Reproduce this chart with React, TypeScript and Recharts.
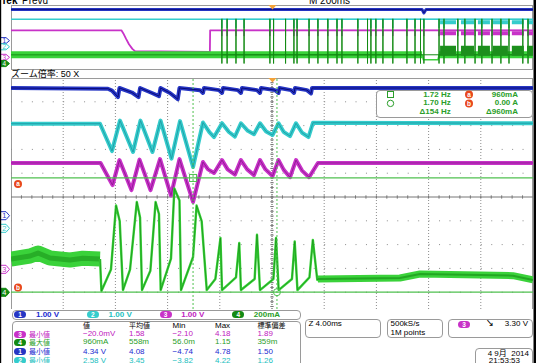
import React from 'react';
import { ComposedChart, Line, XAxis, YAxis, ReferenceLine, ReferenceDot } from 'recharts';

// scope colours
const C1 = '#2636c4';
const C1D = '#0a0a78';
const C2 = '#35cccc';
const C2D = '#1a96a0';
const C3 = '#c832c8';
const C3D = '#86168a';
const C4 = '#3ad23a';
const C4D = '#138a13';
const CUR = '#4fc04f';
const GRID = '#8c8c8c';
const TXT_GREEN = '#2a9e2a';
const FONT = "'Liberation Sans', 'Noto Sans CJK JP', sans-serif";

// ---- zoom window (40 ms, 4 ms/div) ----
// ground of each channel, in divisions from the centre line, and units per division
const zoomGround = [-0.79, -1.32, -3.04, -4.0];
const perDiv = [1, 1, 1, 200];
const zoomDivPx = 23.8;
const zoomH = 231;

// [ms, V]
const zoomCh1: [number, number][] = [
  [0, 5.37], [7.43, 5.34], [7.74, 5.26], [8.2, 4.99], [8.31, 5.37], [9.27, 5.18], [9.77, 4.99], [9.89, 5.37],
  [10.8, 5.16], [11.34, 5.03], [11.46, 5.37], [12.18, 5.16], [12.78, 4.9], [12.91, 5.37], [14.48, 5.28],
  [14.71, 5.16], [14.79, 5.37], [15.94, 5.28], [16.17, 5.16], [16.25, 5.37], [17.39, 5.28], [17.62, 5.16],
  [17.7, 5.37], [18.85, 5.28], [19.08, 5.16], [19.16, 5.37], [20.23, 5.28], [20.5, 5.16], [20.57, 5.37],
  [21.46, 5.28], [21.69, 5.16], [21.76, 5.37], [22.68, 5.28], [22.99, 5.14], [23.07, 5.37], [40, 5.37],
];
const zoomCh2: [number, number][] = [
  [0, 4.4], [6.82, 4.4], [7.74, 3.25], [8.35, 4.53], [9.35, 3.21], [9.92, 4.53], [10.84, 3.21], [11.46, 4.53],
  [12.3, 2.93], [12.95, 4.51], [13.95, 2.58], [14.71, 4.45], [15.2, 4.05], [15.56, 3.84], [16.17, 4.42],
  [16.7, 4.05], [17.16, 3.86], [17.62, 4.42], [18.15, 4.1], [18.62, 3.96], [19.08, 4.42], [19.55, 4.07],
  [20.04, 3.92], [20.5, 4.42], [20.9, 4.05], [21.38, 3.88], [21.84, 4.42], [22.3, 4.02], [22.8, 3.84],
  [23.14, 4.44], [40, 4.42],
];
const zoomCh3: [number, number][] = [
  [0, 4.47], [6.86, 4.47], [7.78, 3.54], [8.31, 4.59], [9.23, 3.33], [9.85, 4.61], [10.69, 3.33], [11.42, 4.63],
  [12.26, 3.1], [12.91, 4.63], [13.95, 2.83], [14.71, 4.51], [15.1, 4.2], [15.56, 4.05], [16.17, 4.59],
  [16.6, 4.2], [17.16, 3.98], [17.62, 4.59], [18.1, 4.2], [18.62, 3.96], [19.08, 4.59], [19.5, 4.2],
  [20.04, 3.92], [20.5, 4.59], [20.9, 4.18], [21.38, 3.87], [21.84, 4.59], [22.3, 4.15], [22.84, 3.87],
  [23.52, 4.47], [40, 4.47],
];
// [ms, mA]
const zoomCh4Band: [number, number][] = [
  [0, 279], [1.46, 304], [2.07, 329], [2.99, 287], [4.52, 271], [5.5, 285], [6.82, 279],
];
const zoomCh4Pulse: [number, number][] = [
  [6.82, 279], [6.93, 10], [7.66, 190], [8.05, 728], [8.33, 598], [8.58, 18], [9.12, 190], [9.64, 758],
  [9.89, 627], [10.04, 18], [10.68, 180], [11.08, 758], [11.34, 657], [11.47, 18], [12.26, 282], [12.52, 871],
  [12.91, 771], [13.03, 18], [13.95, 296], [14.22, 728], [14.61, 598], [15.0, 18], [15.66, 111], [16.05, 455],
  [16.17, 18], [17.24, 124], [17.49, 413], [17.62, 18], [18.67, 111], [18.85, 483], [19.08, 18], [20.11, 111],
  [20.31, 455], [20.51, 18], [21.53, 111], [21.74, 426], [21.95, 18], [22.87, 124], [23.13, 439], [23.47, 103],
  [23.52, 111],
];
const zoomCh4Tail: [number, number][] = [
  [23.52, 111], [29.8, 119], [31.34, 153], [35.94, 145], [38.47, 139], [40, 103],
];
const cursorA = 960; // mA
const cursorB = 0;
const cursorT1 = 13.95; // ms
const cursorT2 = 20.38;

// ---- overview record (2 s, 200 ms/div) ----
const ovGround = [5.12, 4.14, 2.24, 1.12];
const ovDivs = 11.2;
const ovCh1: [number, number | null][] = [[0, 5.3], [1575, 5.3], [1582, 4.7], [1590, 5.3], [2000, 5.3]];
const ovCh2: [number, number | null][] = [[0, 4.6], [2000, 4.6]];
const ovCh3: [number, number | null][] = [
  [0, 4.6], [423, 4.6], [430, 4.1], [440, 3.2], [452, 2.2], [465, 1.4], [475, 1.0], [762, 0.9], [763, 4.6], [2000, 4.6],
];
const ovCh4: [number, number | null][] = [[0, 300], [1575, 300], [1576, null], [1640, 300], [2000, 300]];
const ovCh4Low: [number, number | null][] = [[1575, 300], [1580, 130], [1636, 130], [1640, 300]];
const ovSpikeT = [
  808, 828, 862, 893, 992, 1006, 1052, 1084, 1096, 1142, 1176, 1214, 1249, 1268, 1329, 1366, 1379, 1398, 1425,
  1463, 1517, 1548, 1569, 1582, 1640, 1659, 1712, 1739, 1778, 1804, 1843, 1877, 1908, 1961, 1981,
];
const ovBurst: [number, number][] = [[1644, 1705], [1724, 1774], [1789, 1835], [1846, 1904], [1919, 1965], [1977, 2000]];

// ---- readouts ----
const legendCh = [1, 2, 3, 4];
const legendScale = ['1.00 V', '1.00 V', '1.00 V', '200mA'];
const measHead = ['値', '平均値', 'Min', 'Max', '標準偏差'];
const measCh = [3, 4, 1, 2];
const measName = ['最小値', '最大値', '最小値', '最小値'];
const measValue = ['−20.0mV', '960mA', '4.34 V', '2.58 V'];
const measMean = ['1.58', '558m', '4.08', '3.45'];
const measMin = ['−2.10', '56.0m', '−4.74', '−3.82'];
const measMax = ['4.18', '1.15', '4.78', '4.22'];
const measStd = ['1.89', '359m', '1.50', '1.26'];

const chColor = ['', C1, C2, C3, C4D];
const chText = ['', '#1a2ad0', '#22c0c0', '#c020c0', TXT_GREEN];

const place = (pts: [number, number | null][], ch: number, ground: number[]) =>
  pts.map(([t, v]) => ({ t, y: v == null ? null : ground[ch] + v / perDiv[ch] }));

const spikes = (times: number[], ch: number, base: number, levels: number[]) =>
  place(times.flatMap((t) => [[t, base], ...levels.map((l) => [t, l]), [t, base]] as [number, number][]), ch, ovGround);

const spans = (list: [number, number][], ch: number, level: number) =>
  place(list.flatMap(([a, b]) => [[a, level], [b, level], [b, null]] as [number, number | null][]), ch, ovGround);

const steps = (from: number, to: number, step: number) => {
  const out: number[] = [];
  for (let v = from; v <= to + 1e-6; v += step) out.push(Math.round(v * 1000) / 1000);
  return out;
};

const trace = (key: string, data: any[], color: string, width: number, opacity = 1) => (
  <Line
    key={key}
    data={data}
    dataKey="y"
    type="linear"
    stroke={color}
    strokeWidth={width}
    strokeOpacity={opacity}
    strokeLinejoin="round"
    dot={false}
    activeDot={false}
    isAnimationActive={false}
  />
);

const T: React.FC<{ x: number; y: number; size?: number; color?: string; bold?: boolean; end?: boolean; children: React.ReactNode }> = ({
  x, y, size = 8, color = '#000', bold, end, children,
}) => (
  <div
    style={{
      position: 'absolute',
      top: y - size / 2 - 1,
      ...(end ? { right: 536 - x } : { left: x }),
      fontSize: size,
      lineHeight: `${size + 2}px`,
      color,
      fontWeight: bold ? 'bold' : 'normal',
      whiteSpace: 'nowrap',
      fontFamily: FONT,
    }}
  >
    {children}
  </div>
);

const Pill: React.FC<{ x: number; y: number; ch: number }> = ({ x, y, ch }) => (
  <div
    style={{
      position: 'absolute', left: x, top: y - 3.5, width: 12, height: 7, borderRadius: 4,
      background: chColor[ch], color: '#fff', fontSize: 6.5, lineHeight: '7px', textAlign: 'center',
      fontFamily: FONT, fontWeight: 'bold',
    }}
  >
    {ch}
  </div>
);

const Box: React.FC<{ x: number; y: number; w: number; h: number }> = ({ x, y, w, h }) => (
  <div style={{ position: 'absolute', left: x, top: y, width: w, height: h, border: '1px solid #9a9a9a', borderRadius: 4, background: '#fff', boxSizing: 'border-box' }} />
);

const Marker: React.FC<{ y: number; n: number; color: string; filled?: boolean; h?: number }> = ({ y, n, color, filled, h = 4 }) => (
  <g>
    <path d={`M0.5,${y - h} H6 L9.5,${y} L6,${y + h} H0.5 Z`} fill={filled ? color : '#fff'} stroke={color} strokeWidth={1} />
    <text x={4.3} y={y + 2.6} fontSize={h < 4 ? 6.5 : 7.5} textAnchor="middle" fill={filled ? '#fff' : color} fontFamily={FONT}>{n}</text>
  </g>
);

const Dot: React.FC<{ x: number; y: number; l: string }> = ({ x, y, l }) => (
  <g>
    <circle cx={x} cy={y} r={4} fill="#e8481c" />
    <text x={x} y={y + 2.3} fontSize={6.5} fontWeight="bold" textAnchor="middle" fill="#fff" fontFamily={FONT}>{l}</text>
  </g>
);

const Overview = () => (
  <ComposedChart width={522} height={65} margin={{ top: 0, right: 0, bottom: 0, left: 0 }}>
    <XAxis type="number" dataKey="t" domain={[0, 2000]} hide allowDataOverflow />
    <YAxis type="number" domain={[0, ovDivs]} hide allowDataOverflow />
    {trace('b', place(ovCh1, 0, ovGround), C1, 3)}
    {trace('bi', place(ovCh1, 0, ovGround), C1D, 0.8)}
    {trace('c', place(ovCh2, 1, ovGround), C2, 1.4)}
    {trace('cs', spikes(ovSpikeT, 1, 4.6, [3.1]), C2, 1)}
    {trace('cb', spans(ovBurst, 1, 4.1), C2, 4)}
    {trace('m', place(ovCh3, 2, ovGround), C3, 1.8)}
    {trace('ms', spikes(ovSpikeT, 2, 4.6, [3.6]), C3, 1)}
    {trace('mb', spans(ovBurst, 2, 4.1), C3, 4)}
    {trace('g', place(ovCh4, 3, ovGround), C4, 7)}
    {trace('gi', place(ovCh4, 3, ovGround), C4D, 1.4, 0.6)}
    {trace('gl', place(ovCh4Low, 3, ovGround), C4, 1.5)}
    {trace('gs', spikes(ovSpikeT, 3, 300, [1540, 0]), C4D, 1)}
    {trace('gb', spans(ovBurst, 3, 440), '#1c8f1c', 10)}
  </ComposedChart>
);

const zoomTop = 5;
const zoomBottom = 5 - zoomH / zoomDivPx;
const majorT = [4, 8, 12, 16, 24, 28, 32, 36];
const majorDiv = [-4, -3, -2, -1, 1, 2, 3, 4];
const minorT = steps(0.8, 39.2, 0.8);
const minorDiv = steps(-4.6, 4.8, 0.2);

const Zoom = () => (
  <ComposedChart width={522} height={zoomH} margin={{ top: 0, right: 0, bottom: 0, left: 0 }}>
    <XAxis type="number" dataKey="t" domain={[0, 40]} hide allowDataOverflow />
    <YAxis type="number" domain={[zoomBottom, zoomTop]} hide allowDataOverflow />
    {majorT.map((t) => (
      <ReferenceLine key={`vx${t}`} x={t} stroke={GRID} strokeDasharray="1 2" />
    ))}
    {majorDiv.map((d) => (
      <ReferenceLine key={`hy${d}`} y={d} stroke={GRID} strokeDasharray="1 9.44" />
    ))}
    <ReferenceLine y={0} stroke="#777" />
    <ReferenceLine x={20} stroke="#444" strokeDasharray="1 1" />
    {minorT.map((t) => (
      <ReferenceLine key={`mt${t}`} segment={[{ x: t, y: -0.07 }, { x: t, y: 0.07 }]} stroke="#777" />
    ))}
    {minorDiv.map((d) => (
      <ReferenceLine key={`md${d}`} segment={[{ x: 19.87, y: d }, { x: 20.13, y: d }]} stroke="#777" />
    ))}
    {trace('b', place(zoomCh1, 0, zoomGround), C1, 4)}
    {trace('bi', place(zoomCh1, 0, zoomGround), C1D, 1)}
    {trace('c', place(zoomCh2, 1, zoomGround), C2, 4)}
    {trace('ci', place(zoomCh2, 1, zoomGround), C2D, 0.8)}
    {trace('m', place(zoomCh3, 2, zoomGround), C3, 4)}
    {trace('mi', place(zoomCh3, 2, zoomGround), C3D, 0.8)}
    {trace('g', place(zoomCh4Band, 3, zoomGround), C4, 15)}
    {trace('gi', place(zoomCh4Band, 3, zoomGround), C4D, 5, 0.5)}
    {trace('gp', place(zoomCh4Pulse, 3, zoomGround), C4, 2.4)}
    {trace('gpi', place(zoomCh4Pulse, 3, zoomGround), C4D, 0.8, 0.8)}
    {trace('gt', place(zoomCh4Tail, 3, zoomGround), C4, 7)}
    {trace('gti', place(zoomCh4Tail, 3, zoomGround), C4D, 2, 0.6)}
    <ReferenceLine y={zoomGround[3] + cursorA / perDiv[3]} stroke={CUR} strokeWidth={1.2} />
    <ReferenceLine y={zoomGround[3] + cursorB / perDiv[3]} stroke={CUR} strokeWidth={1.2} />
    <ReferenceLine x={cursorT1} stroke={CUR} strokeDasharray="2 2" />
    <ReferenceLine x={cursorT2} stroke={CUR} strokeDasharray="2 2" />
    <ReferenceDot
      x={cursorT1}
      y={zoomGround[3] + cursorA / perDiv[3]}
      r={3}
      shape={(p: any) => <rect x={p.cx - 3.5} y={p.cy - 3.5} width={7} height={7} fill="none" stroke={CUR} />}
    />
    <ReferenceDot x={cursorT2} y={zoomGround[3] + cursorB / perDiv[3]} r={3.5} fill="none" stroke={CUR} />
  </ComposedChart>
);

export default function App() {
  const rowY = [334, 342.3, 351.8, 360.7];
  const colX = [83, 129, 172.6, 215, 257.4];
  return (
    <div style={{ position: 'absolute', left: 0, top: 0, width: 536, height: 363, overflow: 'hidden', background: '#fff', fontFamily: FONT }}>
      {/* overview frame and traces */}
      <div style={{ position: 'absolute', left: 11, top: 5, width: 522, height: 65, border: '1px solid #9a9a9a', boxSizing: 'border-box' }} />
      <div style={{ position: 'absolute', left: 11, top: 5 }}>
        <Overview />
      </div>
      <T x={1} y={1} size={10} bold>Tek</T>
      <T x={22} y={1} size={10}>Prevu</T>
      <T x={309} y={1} size={10}>M 200ms</T>

      <T x={11} y={74} size={9}>ズーム倍率: 50 X</T>

      {/* zoom graticule */}
      <div style={{ position: 'absolute', left: 11, top: 78, width: 522, height: zoomH, border: '1px solid #9a9a9a', borderBottom: 'none', boxSizing: 'border-box' }} />
      <div style={{ position: 'absolute', left: 11, top: 78 }}>
        <Zoom />
      </div>

      {/* cursor readout */}
      <Box x={376} y={89.5} w={157} h={28} />
      <T x={450.7} y={94.5} color={TXT_GREEN} bold end>1.72 Hz</T>
      <T x={450.7} y={103.4} color={TXT_GREEN} bold end>1.70 Hz</T>
      <T x={450.7} y={112.4} color={TXT_GREEN} bold end>Δ154 Hz</T>
      <T x={518} y={94.5} color={TXT_GREEN} bold end>960mA</T>
      <T x={518} y={103.4} color={TXT_GREEN} bold end>0.00 A</T>
      <T x={518} y={112.4} color={TXT_GREEN} bold end>Δ960mA</T>

      {/* bottom readouts */}
      <div style={{ position: 'absolute', left: 2, top: 309, width: 531, height: 54, background: '#fff' }} />
      <Box x={11.5} y={310} w={289} h={9.5} />
      {legendCh.map((ch, i) => (
        <React.Fragment key={ch}>
          <Pill x={14 + i * 72.8} y={314.7} ch={ch} />
          <T x={36 + i * 72.6} y={314.7} color={chText[ch]} bold>{legendScale[i]}</T>
        </React.Fragment>
      ))}
      <Box x={11.5} y={320.5} w={289} h={50} />
      {measHead.map((h, i) => (
        <T key={h} x={colX[i]} y={325.5} size={i === 2 || i === 3 ? 8 : 7}>{h}</T>
      ))}
      {measCh.map((ch, r) => (
        <React.Fragment key={r}>
          <Pill x={14} y={rowY[r]} ch={ch} />
          <T x={29} y={rowY[r]} size={7} color={chText[ch]}>{measName[r]}</T>
          <T x={colX[0]} y={rowY[r]} color={chText[ch]}>{measValue[r]}</T>
          <T x={colX[1]} y={rowY[r]} color={chText[ch]}>{measMean[r]}</T>
          <T x={colX[2]} y={rowY[r]} color={chText[ch]}>{measMin[r]}</T>
          <T x={colX[3]} y={rowY[r]} color={chText[ch]}>{measMax[r]}</T>
          <T x={colX[4]} y={rowY[r]} color={chText[ch]}>{measStd[r]}</T>
        </React.Fragment>
      ))}
      <Box x={305} y={318.6} w={76} h={19} />
      <T x={308.5} y={324.2}>Z 4.00ms</T>
      <Box x={387.4} y={318.6} w={55.5} h={19} />
      <T x={390.5} y={324.2}>500kS/s</T>
      <T x={390.5} y={332.6}>1M points</T>
      <Box x={448} y={318.6} w={85} h={19} />
      <Pill x={458} y={324.2} ch={3} />
      <T x={486} y={324.2} bold>↘</T>
      <T x={528} y={324.2} end>3.30 V</T>
      <Box x={475} y={347.7} w={58} h={20} />
      <T x={529} y={353.5} end>4 9月&nbsp;&nbsp;2014</T>
      <T x={520} y={361.3} end>21:53:53</T>

      {/* markers */}
      <svg width={536} height={363} style={{ position: 'absolute', left: 0, top: 0, pointerEvents: 'none' }}>
        <path d="M268.5,5 L276.5,5 L272.5,9.5 Z" fill="#f2a23a" />
        <path d="M268.5,78 L276.5,78 L272.5,82.5 Z" fill="#f2a23a" />
        <Marker y={40.6} n={1} color={C1} h={3} />
        <Marker y={46.8} n={2} color={C2} h={3} />
        <Marker y={57.3} n={3} color={C3} h={3} />
        <Marker y={63.6} n={4} color={C4D} filled h={3} />
        <Marker y={215.7} n={1} color={C1} />
        <Marker y={228.3} n={2} color={C2} />
        <Marker y={269.3} n={3} color={C3} />
        <Marker y={292.3} n={4} color={C4D} filled />
        <Dot x={18} y={184} l="a" />
        <Dot x={18} y={287.5} l="b" />
        <rect x={387.5} y={91.5} width={6} height={6} fill="none" stroke={TXT_GREEN} />
        <circle cx={390.5} cy={103.4} r={3.2} fill="none" stroke={TXT_GREEN} />
        <Dot x={469} y={94.5} l="a" />
        <Dot x={469} y={103.4} l="b" />
        <rect x={0} y={0} width={1.2} height={363} fill="#000" />
        <rect x={533.5} y={0} width={2.5} height={363} fill="#000" />
      </svg>
    </div>
  );
}
